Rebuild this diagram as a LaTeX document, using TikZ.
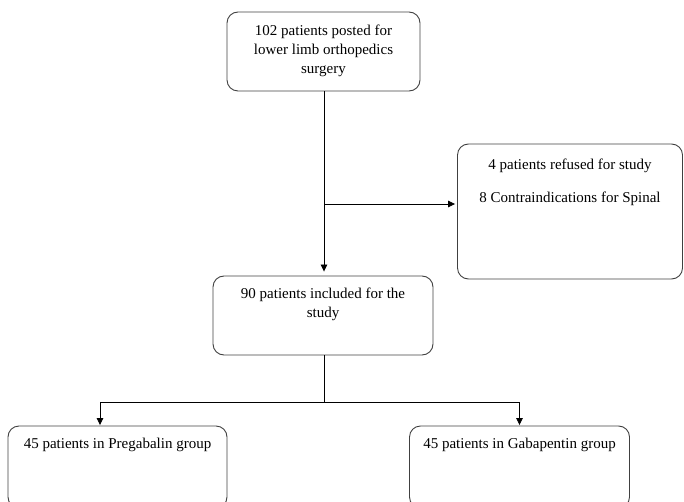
\documentclass[tikz,border=0pt]{standalone}
\usepackage{fontspec}
\setmainfont{Liberation Serif}
\usetikzlibrary{arrows.meta}
\begin{document}
\begin{tikzpicture}[x=1pt,y=-1pt,
  box/.style={draw=black!75, line width=0.9pt, rounded corners=11pt, inner sep=0pt},
  txt/.style={font=\fontsize{15}{19}\selectfont, align=center, inner sep=0pt, anchor=base},
  link/.style={draw=black, line width=0.8pt},
  arr/.style={link, -{Triangle[length=7pt,width=6.5pt]}}]
\useasboundingbox (0,0) rectangle (684,502);
\clip (0,0) rectangle (684,502);
% boxes
\node[box, minimum width=193pt, minimum height=79pt] (top) at (323.5,51.5) {};
\node[box, minimum width=225pt, minimum height=135pt] (right) at (570,211.5) {};
\node[box, minimum width=220pt, minimum height=79pt] (mid) at (323,315.5) {};
\node[box, minimum width=219pt, minimum height=82pt] (bl) at (117.5,467) {};
\node[box, minimum width=220pt, minimum height=82pt] (br) at (519.5,467) {};
% texts (base anchor = baseline of last line)
\node[txt] (toptext) at ([yshift=-62pt]top.north) {102 patients posted for\\lower limb orthopedics\\surgery};
\node[txt] (righttext1) at ([yshift=-26pt]right.north) {4 patients refused for study};
\node[txt] (righttext2) at ([yshift=-59pt]right.north) {8 Contraindications for Spinal};
\node[txt] (midtext) at ([yshift=-42pt]mid.north) {90 patients included for the\\study};
\node[txt] (bltext) at ([yshift=-23pt]bl.north) {45 patients in Pregabalin group};
\node[txt] (brtext) at ([yshift=-23pt]br.north) {45 patients in Gabapentin group};
% connectors
\coordinate (b1) at (324,204);
\coordinate (b2) at (324,402);
\draw[arr, shorten >=4pt] (top.south -| b1) -- (b1 |- mid.north);
\draw[arr, shorten >=2pt] (b1) -- (b1 -| right.west);
\draw[link] (b2 |- mid.south) -- (b2);
\draw[arr, shorten >=0.5pt] (b2) -| ([xshift=-17.5pt]bl.north);
\draw[arr, shorten >=0.5pt] (b2) -| (br.north);
\end{tikzpicture}
\end{document}
